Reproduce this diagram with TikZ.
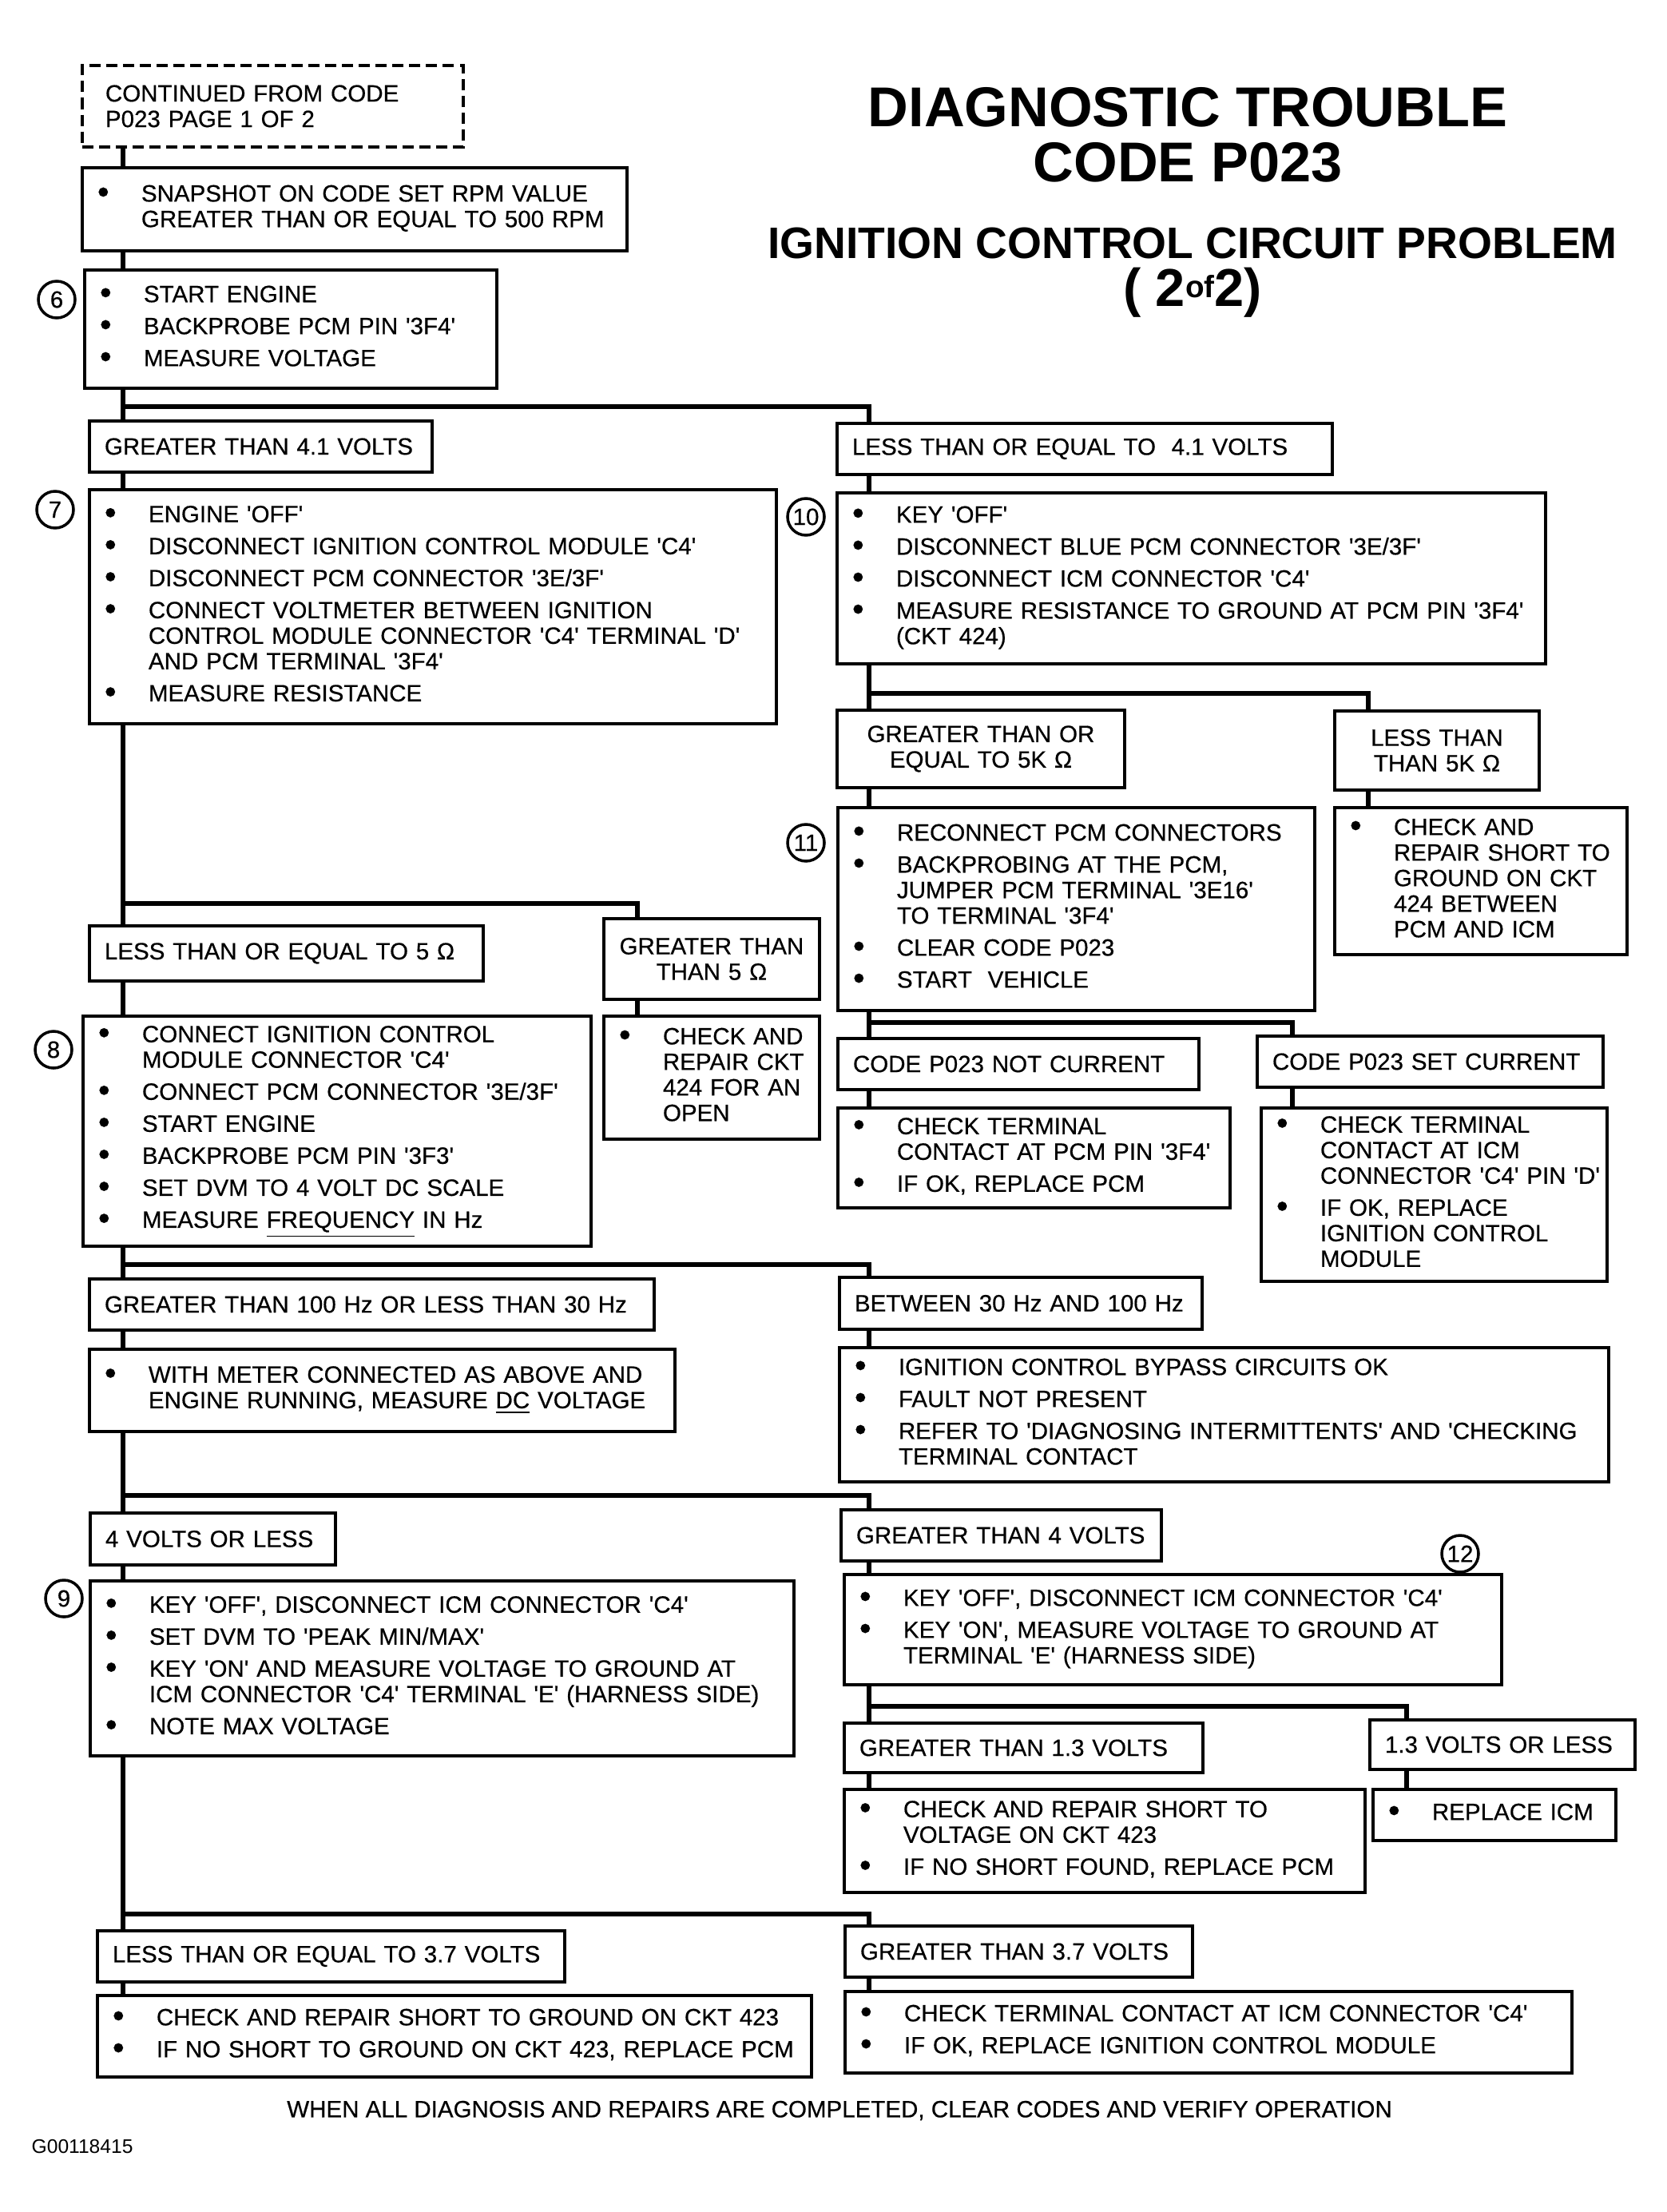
\documentclass[tikz,border=0pt]{standalone}
\usepackage{fontspec}
\setmainfont{Liberation Sans}
\newfontfamily\chartfont{Liberation Sans}[FakeBold=0.5]
\usetikzlibrary{calc}

\newcommand{\bodyfont}{\chartfont\fontsize{8.4}{9.1}\selectfont}
\newcommand{\steps}[1]{\begin{tabular}{@{}p{5.5mm}@{}l@{}}#1\end{tabular}}
\newcommand{\bdot}{\raisebox{-0.6pt}{\large\textbullet}}
\newcommand{\nx}{\\[2.3pt]}

\begin{document}
\begin{tikzpicture}[
  box/.style={draw, line width=1.1pt, rectangle, anchor=north west, inner xsep=1.9mm, inner ysep=0pt, align=left, font=\bodyfont},
  cbox/.style={box, align=center},
  num/.style={circle, draw, line width=1pt, minimum size=0.46cm, inner sep=0pt, font=\bodyfont},
  conn/.style={line width=1.8pt}]
  \useasboundingbox (0,0) rectangle (20.86,-27.69);

  % title
  \node[font=\bfseries\fontsize{20}{19.5}\selectfont, align=center] (title) at (14.87,-1.69) {DIAGNOSTIC TROUBLE\\CODE P023};
  \node[font=\bfseries\fontsize{15.7}{17}\selectfont, align=center] (subtitle) at (14.93,-3.41)
    {IGNITION CONTROL CIRCUIT PROBLEM\\{\fontsize{19}{19}\selectfont( 2\raisebox{3pt}{\fontsize{11}{11}\selectfont of}2)}};

  % columns for the connectors
  \coordinate (colL) at (1.54,0);
  \coordinate (colR) at (10.88,0);
  \coordinate (col5) at (7.98,0);
  \coordinate (col5k) at (17.13,0);
  \coordinate (colset) at (16.18,0);
  \coordinate (col13) at (17.61,0);

  % left column
  \node[box, dash pattern=on 4pt off 2pt, text width=4.39cm, minimum height=1.02cm] (cont) at (1.01,-0.80)
    {\hspace*{1mm}CONTINUED FROM CODE\\\hspace*{1mm}P023 PAGE 1 OF 2};
  \node[box, text width=6.44cm, minimum height=1.04cm] (snap) at (1.01,-2.08)
    {\steps{\bdot & SNAPSHOT ON CODE SET RPM VALUE\\ & GREATER THAN OR EQUAL TO 500 RPM}};
  \node[box, text width=4.78cm, minimum height=1.48cm] (s6) at (1.04,-3.36)
    {\steps{\bdot & START ENGINE\nx \bdot & BACKPROBE PCM PIN '3F4'\nx \bdot & MEASURE VOLTAGE}};
  \node[box, text width=3.91cm, minimum height=0.64cm] (gt41) at (1.10,-5.25) {GREATER THAN 4.1 VOLTS};
  \node[box, text width=8.22cm, minimum height=2.93cm] (s7) at (1.10,-6.11)
    {\steps{\bdot & ENGINE 'OFF'\nx \bdot & DISCONNECT IGNITION CONTROL MODULE 'C4'\nx
      \bdot & DISCONNECT PCM CONNECTOR '3E/3F'\nx
      \bdot & CONNECT VOLTMETER BETWEEN IGNITION\\ & CONTROL MODULE CONNECTOR 'C4' TERMINAL 'D'\\ & AND PCM TERMINAL '3F4'\nx
      \bdot & MEASURE RESISTANCE}};
  \node[box, text width=4.55cm, minimum height=0.69cm] (le5) at (1.10,-11.57) {LESS THAN OR EQUAL TO 5 Ω};
  \node[cbox, text width=2.32cm, minimum height=1.01cm] (gt5) at (7.54,-11.48) {GREATER THAN\\THAN 5 Ω};
  \node[box, text width=5.98cm, minimum height=2.88cm] (s8) at (1.02,-12.70)
    {\steps{\bdot & CONNECT IGNITION CONTROL\\ & MODULE CONNECTOR 'C4'\nx
      \bdot & CONNECT PCM CONNECTOR '3E/3F'\nx \bdot & START ENGINE\nx
      \bdot & BACKPROBE PCM PIN '3F3'\nx \bdot & SET DVM TO 4 VOLT DC SCALE\nx
      \bdot & MEASURE \underline{FREQUENCY} IN Hz}};
  \node[box, text width=2.32cm, minimum height=1.54cm] (op424) at (7.54,-12.70)
    {\steps{\bdot & CHECK AND\\ & REPAIR CKT\\ & 424 FOR AN\\ & OPEN}};
  \node[box, text width=6.69cm, minimum height=0.64cm] (hzout) at (1.10,-15.99) {GREATER THAN 100 Hz OR LESS THAN 30 Hz};
  \node[box, text width=6.95cm, minimum height=1.03cm] (meter) at (1.10,-16.87)
    {\steps{\bdot & WITH METER CONNECTED AS ABOVE AND\\ & ENGINE RUNNING, MEASURE \underline{DC} VOLTAGE}};
  \node[box, text width=2.69cm, minimum height=0.65cm] (le4) at (1.11,-18.92) {4 VOLTS OR LESS};
  \node[box, text width=8.43cm, minimum height=2.19cm] (s9) at (1.11,-19.77)
    {\steps{\bdot & KEY 'OFF', DISCONNECT ICM CONNECTOR 'C4'\nx \bdot & SET DVM TO 'PEAK MIN/MAX'\nx
      \bdot & KEY 'ON' AND MEASURE VOLTAGE TO GROUND AT\\ & ICM CONNECTOR 'C4' TERMINAL 'E' (HARNESS SIDE)\nx
      \bdot & NOTE MAX VOLTAGE}};
  \node[box, text width=5.47cm, minimum height=0.64cm] (le37) at (1.20,-24.15) {LESS THAN OR EQUAL TO 3.7 VOLTS};
  \node[box, text width=8.56cm, minimum height=1.02cm] (shg423) at (1.20,-24.96)
    {\steps{\bdot & CHECK AND REPAIR SHORT TO GROUND ON CKT 423\nx \bdot & IF NO SHORT TO GROUND ON CKT 423, REPLACE PCM}};

  % right column
  \node[box, text width=5.82cm, minimum height=0.64cm] (le41) at (10.46,-5.28) {LESS THAN OR EQUAL TO\ \ 4.1 VOLTS};
  \node[box, text width=8.49cm, minimum height=2.14cm] (s10) at (10.46,-6.15)
    {\steps{\bdot & KEY 'OFF'\nx \bdot & DISCONNECT BLUE PCM CONNECTOR '3E/3F'\nx
      \bdot & DISCONNECT ICM CONNECTOR 'C4'\nx
      \bdot & MEASURE RESISTANCE TO GROUND AT PCM PIN '3F4'\\ & (CKT 424)}};
  \node[cbox, text width=3.22cm, minimum height=0.97cm] (ge5k) at (10.46,-8.87) {GREATER THAN OR\\EQUAL TO 5K Ω};
  \node[cbox, text width=2.18cm, minimum height=0.99cm] (lt5k) at (16.69,-8.88) {LESS THAN\\THAN 5K Ω};
  \node[box, text width=5.59cm, minimum height=2.54cm] (s11) at (10.47,-10.09)
    {\steps{\bdot & RECONNECT PCM CONNECTORS\nx
      \bdot & BACKPROBING AT THE PCM,\\ & JUMPER PCM TERMINAL '3E16'\\ & TO TERMINAL '3F4'\nx
      \bdot & CLEAR CODE P023\nx \bdot & START\ \ VEHICLE}};
  \node[box, text width=3.28cm, minimum height=1.84cm] (sh424) at (16.69,-10.09)
    {\steps{\bdot & CHECK AND\\ & REPAIR SHORT TO\\ & GROUND ON CKT\\ & 424 BETWEEN\\ & PCM AND ICM}};
  \node[box, text width=4.14cm, minimum height=0.64cm] (notcur) at (10.47,-12.98) {CODE P023 NOT CURRENT};
  \node[box, text width=3.95cm, minimum height=0.64cm] (setcur) at (15.72,-12.95) {CODE P023 SET CURRENT};
  \node[box, text width=4.53cm, minimum height=1.25cm] (chkpcm) at (10.47,-13.85)
    {\steps{\bdot & CHECK TERMINAL\\ & CONTACT AT PCM PIN '3F4'\nx \bdot & IF OK, REPLACE PCM}};
  \node[box, text width=3.95cm, minimum height=2.17cm] (chkicm) at (15.77,-13.85)
    {\steps{\bdot & CHECK TERMINAL\\ & CONTACT AT ICM\\ & CONNECTOR 'C4' PIN 'D'\nx
      \bdot & IF OK, REPLACE\\ & IGNITION CONTROL\\ & MODULE}};
  \node[box, text width=4.16cm, minimum height=0.65cm] (hzin) at (10.49,-15.97) {BETWEEN 30 Hz AND 100 Hz};
  \node[box, text width=9.25cm, minimum height=1.68cm] (bypass) at (10.49,-16.85)
    {\steps{\bdot & IGNITION CONTROL BYPASS CIRCUITS OK\nx \bdot & FAULT NOT PRESENT\nx
      \bdot & REFER TO 'DIAGNOSING INTERMITTENTS' AND 'CHECKING\\ & TERMINAL CONTACT}};
  \node[box, text width=3.63cm, minimum height=0.64cm] (gt4) at (10.51,-18.88) {GREATER THAN 4 VOLTS};
  \node[box, text width=7.85cm, minimum height=1.38cm] (s12) at (10.55,-19.69)
    {\steps{\bdot & KEY 'OFF', DISCONNECT ICM CONNECTOR 'C4'\nx
      \bdot & KEY 'ON', MEASURE VOLTAGE TO GROUND AT\\ & TERMINAL 'E' (HARNESS SIDE)}};
  \node[box, text width=4.11cm, minimum height=0.62cm] (gt13) at (10.55,-21.55) {GREATER THAN 1.3 VOLTS};
  \node[box, text width=2.94cm, minimum height=0.62cm] (le13) at (17.13,-21.51) {1.3 VOLTS OR LESS};
  \node[box, text width=6.14cm, minimum height=1.29cm] (shv423) at (10.55,-22.38)
    {\steps{\bdot & CHECK AND REPAIR SHORT TO\\ & VOLTAGE ON CKT 423\nx \bdot & IF NO SHORT FOUND, REPLACE PCM}};
  \node[box, text width=2.66cm, minimum height=0.64cm] (repicm) at (17.17,-22.38) {\steps{\bdot & REPLACE ICM}};
  \node[box, text width=3.97cm, minimum height=0.64cm] (gt37) at (10.56,-24.09) {GREATER THAN 3.7 VOLTS};
  \node[box, text width=8.72cm, minimum height=1.02cm] (icmc4) at (10.56,-24.91)
    {\steps{\bdot & CHECK TERMINAL CONTACT AT ICM CONNECTOR 'C4'\nx \bdot & IF OK, REPLACE IGNITION CONTROL MODULE}};

  % step numbers
  \node[num] (n6) at (0.71,-3.75) {6};
  \node[num] (n7) at (0.69,-6.38) {7};
  \node[num] (n10) at (10.09,-6.47) {10};
  \node[num] (n11) at (10.09,-10.55) {11};
  \node[num] (n8) at (0.67,-13.14) {8};
  \node[num] (n9) at (0.80,-20.01) {9};
  \node[num] (n12) at (18.28,-19.45) {12};

  % connectors, left side
  \draw[conn] (cont.south -| colL) -- (snap.north -| colL);
  \draw[conn] (snap.south -| colL) -- (s6.north -| colL);
  \draw[conn] (s6.south -| colL) -- (gt41.north -| colL);
  \draw[conn] ($(le41.north -| colL)+(0,0.19)$) -| (le41.north -| colR);
  \draw[conn] (gt41.south -| colL) -- (s7.north -| colL);
  \draw[conn] (s7.south -| colL) -- (le5.north -| colL);
  \draw[conn] ($(gt5.north -| colL)+(0,0.17)$) -| (gt5.north -| col5);
  \draw[conn] (le5.south -| colL) -- (s8.north -| colL);
  \draw[conn] (gt5.south -| col5) -- (op424.north -| col5);
  \draw[conn] (s8.south -| colL) -- (hzout.north -| colL);
  \draw[conn] ($(hzin.north -| colL)+(0,0.14)$) -| (hzin.north -| colR);
  \draw[conn] (hzout.south -| colL) -- (meter.north -| colL);
  \draw[conn] (meter.south -| colL) -- (le4.north -| colL);
  \draw[conn] ($(gt4.north -| colL)+(0,0.16)$) -| (gt4.north -| colR);
  \draw[conn] (le4.south -| colL) -- (s9.north -| colL);
  \draw[conn] (s9.south -| colL) -- (le37.north -| colL);
  \draw[conn] ($(gt37.north -| colL)+(0,0.13)$) -| (gt37.north -| colR);
  \draw[conn] (le37.south -| colL) -- (shg423.north -| colL);

  % connectors, right side
  \draw[conn] (le41.south -| colR) -- (s10.north -| colR);
  \draw[conn] (s10.south -| colR) -- (ge5k.north -| colR);
  \draw[conn] ($(lt5k.north -| colR)+(0,0.2)$) -| (lt5k.north -| col5k);
  \draw[conn] (ge5k.south -| colR) -- (s11.north -| colR);
  \draw[conn] (lt5k.south -| col5k) -- (sh424.north -| col5k);
  \draw[conn] (s11.south -| colR) -- (notcur.north -| colR);
  \draw[conn] ($(setcur.north -| colR)+(0,0.15)$) -| (setcur.north -| colset);
  \draw[conn] (notcur.south -| colR) -- (chkpcm.north -| colR);
  \draw[conn] (setcur.south -| colset) -- (chkicm.north -| colset);
  \draw[conn] (hzin.south -| colR) -- (bypass.north -| colR);
  \draw[conn] (gt4.south -| colR) -- (s12.north -| colR);
  \draw[conn] (s12.south -| colR) -- (gt13.north -| colR);
  \draw[conn] ($(le13.north -| colR)+(0,0.15)$) -| (le13.north -| col13);
  \draw[conn] (gt13.south -| colR) -- (shv423.north -| colR);
  \draw[conn] (le13.south -| col13) -- (repicm.north -| col13);
  \draw[conn] (gt37.south -| colR) -- (icmc4.north -| colR);

  % footer
  \node[font=\bodyfont] (footer) at (10.51,-26.42) {WHEN ALL DIAGNOSIS AND REPAIRS ARE COMPLETED, CLEAR CODES AND VERIFY OPERATION};
  \node[anchor=west, inner sep=0pt, font=\fontsize{7}{7}\selectfont] (figid) at (0.39,-26.87) {G00118415};
\end{tikzpicture}
\end{document}
